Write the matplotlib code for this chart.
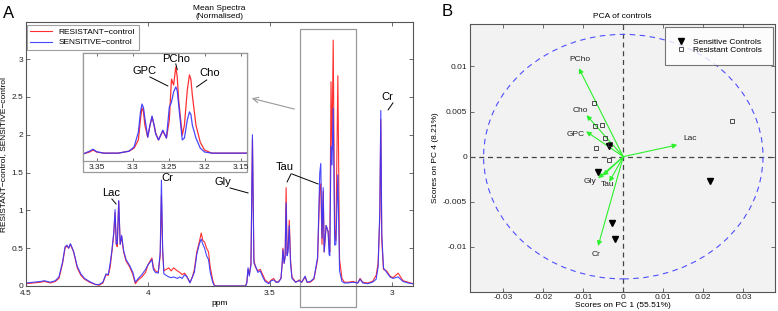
import numpy as np
import matplotlib
matplotlib.use("Agg")
import matplotlib.pyplot as plt
from matplotlib.patches import Rectangle, Ellipse

plt.rcParams['font.family'] = ['Liberation Sans', 'DejaVu Sans']
plt.rcParams['axes.unicode_minus'] = False

# ---- panel A: mean spectra (ppm, resistant, sensitive) ----
ppm_main = [4.500, 4.470, 4.440, 4.425, 4.400, 4.380, 4.365, 4.350, 4.340, 4.332,
            4.325, 4.318, 4.305, 4.290, 4.275, 4.260, 4.240, 4.215, 4.200, 4.185,
            4.172, 4.163, 4.155, 4.148, 4.140, 4.135, 4.130, 4.126, 4.120, 4.114,
            4.108, 4.100, 4.090, 4.075, 4.062, 4.052, 4.040, 4.025, 4.010, 4.000,
            3.990, 3.984, 3.978, 3.970, 3.958, 3.950, 3.945, 3.940, 3.935, 3.925,
            3.915, 3.905, 3.895, 3.880, 3.870, 3.860, 3.850, 3.840, 3.828, 3.818,
            3.810, 3.800, 3.790, 3.782, 3.775, 3.768, 3.760, 3.752, 3.745, 3.735,
            3.727, 3.600, 3.595, 3.590, 3.585, 3.578, 3.572, 3.566, 3.560, 3.550,
            3.540, 3.530, 3.520, 3.505, 3.495, 3.485, 3.475, 3.465, 3.455, 3.450,
            3.447, 3.442, 3.438, 3.434, 3.430, 3.426, 3.421, 3.416, 3.410, 3.395,
            3.380, 3.370, 3.356, 3.348, 3.335, 3.320, 3.305, 3.296, 3.292, 3.287,
            3.282, 3.278, 3.270, 3.262, 3.258, 3.255, 3.250, 3.246, 3.241, 3.235,
            3.230, 3.222, 3.215, 3.205, 3.195, 3.180, 3.160, 3.140, 3.131, 3.120,
            3.100, 3.080, 3.065, 3.057, 3.050, 3.046, 3.042, 3.035, 3.022, 3.008,
            2.996, 2.985, 2.975, 2.955, 2.935, 2.914]
resistant_main = [0.03, 0.04, 0.05, 0.06, 0.04, 0.06, 0.10, 0.30, 0.50, 0.53,
                  0.50, 0.55, 0.45, 0.24, 0.14, 0.09, 0.05, 0.02, 0.01, 0.04,
                  0.15, 0.14, 0.25, 0.45, 0.70, 0.97, 0.55, 0.52, 1.12, 0.55,
                  0.65, 0.45, 0.33, 0.25, 0.15, 0.03, 0.08, 0.12, 0.18, 0.28,
                  0.34, 0.37, 0.25, 0.20, 0.18, 0.40, 1.20, 0.45, 0.20, 0.22,
                  0.24, 0.20, 0.24, 0.20, 0.18, 0.15, 0.17, 0.12, 0.05, 0.12,
                  0.22, 0.45, 0.58, 0.70, 0.60, 0.58, 0.50, 0.45, 0.25, 0.08,
                  0.00, 0.00, 0.05, 0.22, 0.15, 0.30, 1.95, 0.35, 0.25, 0.20,
                  0.22, 0.15, 0.08, 0.04, 0.08, 0.10, 0.05, 0.06, 0.10, 0.30,
                  0.50, 0.30, 0.40, 1.30, 0.42, 0.50, 0.87, 0.35, 0.12, 0.05,
                  0.08, 0.05, 0.12, 0.05, 0.05, 0.09, 0.35, 1.30, 1.35, 0.55,
                  1.25, 0.45, 0.80, 0.72, 0.55, 0.45, 2.70, 1.80, 3.25, 0.74,
                  0.60, 2.78, 0.35, 0.10, 0.05, 0.05, 0.06, 0.04, 0.10, 0.05,
                  0.04, 0.06, 0.14, 0.30, 0.90, 2.20, 0.60, 0.22, 0.20, 0.13,
                  0.11, 0.14, 0.17, 0.07, 0.05, 0.03]
sensitive_main = [0.04, 0.05, 0.06, 0.07, 0.05, 0.07, 0.12, 0.32, 0.52, 0.54,
                  0.50, 0.56, 0.46, 0.26, 0.16, 0.10, 0.06, 0.02, 0.02, 0.05,
                  0.16, 0.15, 0.30, 0.47, 0.72, 1.01, 0.55, 0.56, 1.13, 0.55,
                  0.67, 0.47, 0.35, 0.27, 0.18, 0.05, 0.10, 0.15, 0.22, 0.28,
                  0.32, 0.35, 0.22, 0.18, 0.17, 0.45, 1.40, 0.50, 0.16, 0.14,
                  0.12, 0.11, 0.12, 0.10, 0.12, 0.10, 0.15, 0.12, 0.04, 0.12,
                  0.18, 0.42, 0.55, 0.62, 0.55, 0.50, 0.40, 0.35, 0.18, 0.05,
                  0.00, 0.00, 0.04, 0.24, 0.13, 0.28, 2.00, 0.30, 0.27, 0.18,
                  0.20, 0.12, 0.06, 0.03, 0.07, 0.08, 0.05, 0.05, 0.10, 0.30,
                  0.48, 0.30, 0.38, 1.10, 0.40, 0.45, 0.80, 0.30, 0.10, 0.05,
                  0.07, 0.05, 0.13, 0.05, 0.06, 0.10, 0.38, 1.50, 1.62, 0.63,
                  1.30, 0.45, 0.80, 0.72, 0.42, 0.40, 1.85, 1.60, 2.35, 0.54,
                  0.55, 1.47, 0.20, 0.06, 0.04, 0.04, 0.05, 0.04, 0.09, 0.04,
                  0.03, 0.05, 0.09, 0.25, 1.00, 2.32, 0.70, 0.24, 0.18, 0.12,
                  0.10, 0.11, 0.12, 0.06, 0.04, 0.03]

# zoomed inset 3.15-3.35 ppm (choline region)
ppm_inset = [3.369, 3.360, 3.355, 3.350, 3.340, 3.320, 3.305, 3.298, 3.292, 3.289,
             3.287, 3.285, 3.283, 3.279, 3.276, 3.273, 3.270, 3.268, 3.264, 3.258,
             3.253, 3.249, 3.246, 3.243, 3.240, 3.238, 3.236, 3.231, 3.228, 3.224,
             3.221, 3.219, 3.217, 3.212, 3.206, 3.200, 3.190, 3.170, 3.141]
resistant_inset = [0.04, 0.11, 0.18, 0.11, 0.07, 0.07, 0.14, 0.25, 0.54, 1.30,
                   1.68, 1.55, 1.07, 0.64, 1.05, 1.36, 1.05, 0.79, 0.54, 0.86,
                   0.61, 1.25, 2.71, 2.50, 3.14, 2.80, 1.96, 0.71, 1.07, 2.32,
                   2.86, 2.70, 2.14, 1.07, 0.46, 0.18, 0.07, 0.07, 0.07]
sensitive_inset = [0.04, 0.14, 0.21, 0.12, 0.07, 0.07, 0.14, 0.29, 0.82, 1.55,
                   1.82, 1.70, 1.32, 0.64, 1.05, 1.39, 1.05, 0.75, 0.54, 0.89,
                   0.61, 1.71, 1.89, 2.25, 2.43, 2.30, 1.79, 0.54, 0.61, 1.25,
                   1.54, 1.45, 1.07, 0.61, 0.25, 0.11, 0.07, 0.07, 0.07]

# ---- panel B: PCA scores and loadings ----
sens_pc1 = [-0.0036, -0.0063, -0.0029, -0.0021, 0.0217]
sens_pc4 = [0.0012, -0.0017, -0.0073, -0.0091, -0.0027]
res_pc1 = [-0.0073, -0.0071, -0.0053, -0.0046, -0.0068, -0.0036, 0.0272, -0.0034]
res_pc4 = [0.0059, 0.0034, 0.0035, 0.0021, 0.0010, -0.0004, 0.0040, 0.0014]
load_names = ['PCho', 'Cho', 'GPC', 'Lac', 'Gly', '', 'Tau', 'Cr']
load_pc1 = [-0.0111, -0.0092, -0.0093, 0.0135, -0.0063, -0.0051, -0.0035, -0.0063]
load_pc4 = [0.0098, 0.0046, 0.0028, 0.0013, -0.0024, -0.0021, -0.0028, -0.0099]
label_pc1 = [-0.0108, -0.0107, -0.0118, 0.0168, -0.0082, 0, -0.0040, -0.0068]
label_pc4 = [0.0108, 0.0051, 0.0025, 0.0020, -0.0028, 0, -0.0031, -0.0108]

RED = '#ff3030'
BLUE = '#3434ff'
GRAY = '#555555'
W, H = 778, 311

fig = plt.figure(figsize=(W / 100, H / 100), dpi=100)

def style_axes(ax, fs=6, pad=2):
    for s in ax.spines.values():
        s.set_color(GRAY)
        s.set_linewidth(0.8)
    ax.tick_params(direction='in', length=3, width=0.6, color=GRAY,
                   labelsize=fs, labelcolor='#222222', top=True, right=True, pad=pad)

# ---------- A ----------
axA = fig.add_axes([26 / W, 25 / H, 387 / W, 264 / H])
axA.plot(ppm_main, resistant_main, color=RED, lw=0.8, label='RESISTANT\u2212control')
axA.plot(ppm_main, sensitive_main, color=BLUE, lw=0.8, alpha=0.9, label='SENSITIVE\u2212control')
axA.set_xlim(4.5, 2.914)
axA.set_ylim(0, 3.49)
axA.set_xticks([4.5, 4, 3.5, 3])
axA.set_xticklabels(['4.5', '4', '3.5', '3'])
axA.set_yticks([0, 0.5, 1, 1.5, 2, 2.5, 3])
axA.set_yticklabels(['0', '0.5', '1', '1.5', '2', '2.5', '3'])
style_axes(axA)
axA.tick_params(axis='x', pad=3)
axA.set_title('Mean Spectra\n(Normalised)', fontsize=6, pad=3, linespacing=1.1)
axA.set_xlabel('ppm', fontsize=6, labelpad=2)
axA.set_ylabel('RESISTANT\u2212control, SENSITIVE\u2212control', fontsize=6, labelpad=3)
leg = axA.legend(loc='upper left', bbox_to_anchor=(27 / W, 1 - 25 / H),
                 bbox_transform=fig.transFigure, fontsize=6, frameon=True,
                 fancybox=False, borderaxespad=0, handlelength=2.6,
                 borderpad=0.4, labelspacing=0.3)
leg.get_frame().set_edgecolor('#888888')
leg.get_frame().set_linewidth(0.8)

# zoom box and arrow
axA.add_patch(Rectangle((3.148, -0.28), 0.229, 3.68, fill=False, ec='#999999',
                        lw=0.9, clip_on=False))
axA.annotate('', xy=(3.586, 2.49), xytext=(3.389, 2.33),
             arrowprops=dict(arrowstyle='->', color='#999999', lw=0.8,
                             mutation_scale=10))

lab = dict(fontsize=8, ha='center', va='center', color='black')
lw_lab = dict(color='black', lw=0.7)
axA.text(4.152, 1.23, 'Lac', **lab)
axA.plot([4.148, 4.131], [1.15, 1.085], **lw_lab)
axA.text(3.922, 1.43, 'Cr', **lab)
axA.text(3.693, 1.376, 'Gly', **lab)
axA.plot([3.664, 3.590], [1.296, 1.23], **lw_lab)
axA.text(3.439, 1.574, 'Tau', **lab)
axA.plot([3.414, 3.430], [1.481, 1.376], **lw_lab)
axA.plot([3.410, 3.303], [1.481, 1.349], **lw_lab)
axA.text(3.020, 2.50, 'Cr', **lab)
axA.plot([3.016, 2.996], [2.328, 2.421], **lw_lab)
fig.text(9 / W, 1 - 13 / H, 'A', fontsize=12, ha='center', va='center')

# inset
frame = Rectangle((83 / W, 1 - 172 / H), 164 / W, 119 / H, transform=fig.transFigure,
                  facecolor='white', edgecolor='#999999', lw=0.9, zorder=1)
fig.patches.append(frame)
axI = fig.add_axes([83 / W, 1 - 161 / H, 164 / W, 108 / H])
axI.set_zorder(2)
axI.plot(ppm_inset, resistant_inset, color=RED, lw=0.9)
axI.plot(ppm_inset, sensitive_inset, color=BLUE, lw=0.9, alpha=0.9)
axI.set_xlim(3.369, 3.141)
axI.set_ylim(-0.21, 3.64)
axI.set_xticks([3.35, 3.3, 3.25, 3.2, 3.15])
axI.set_xticklabels(['3.35', '3.3', '3.25', '3.2', '3.15'])
axI.set_yticks([])
for s in axI.spines.values():
    s.set_color('#999999')
    s.set_linewidth(0.9)
axI.tick_params(direction='in', length=2.5, width=0.6, color=GRAY, labelsize=6,
                labelcolor='#222222', top=True, pad=2)
axI.text(3.284, 3.0, 'GPC', **lab)
axI.plot([3.276, 3.251], [2.786, 2.464], **lw_lab)
axI.text(3.240, 3.44, 'PCho', **lab)
axI.plot([3.240, 3.238], [3.25, 3.05], **lw_lab)
axI.text(3.193, 2.93, 'Cho', **lab)
axI.plot([3.197, 3.211], [2.679, 2.429], **lw_lab)

# ---------- B ----------
axB = fig.add_axes([470 / W, 19 / H, 305 / W, 268 / H])
axB.set_facecolor('#f2f2f2')
axB.set_xlim(-0.0383, 0.0379)
axB.set_ylim(-0.0150, 0.0147)
axB.axhline(0, color='#444444', lw=0.9, ls=(0, (4, 3)), zorder=1)
axB.axvline(0, color='#444444', lw=0.9, ls=(0, (4, 3)), zorder=1)
axB.add_patch(Ellipse((0, 0), 0.0698, 0.0271, fill=False, ec='#4f4fff',
                      lw=0.8, ls=(0, (5, 4)), zorder=1))
for nm, x, y, lx, ly in zip(load_names, load_pc1, load_pc4, label_pc1, label_pc4):
    axB.annotate('', xy=(x, y), xytext=(0, 0),
                 arrowprops=dict(arrowstyle='-|>', color='#2cf02c', lw=0.8,
                                 mutation_scale=7, shrinkA=0, shrinkB=0), zorder=3)
    if nm:
        axB.text(lx, ly, nm, fontsize=6, ha='center', va='center', color='#222222', zorder=4)
axB.plot(sens_pc1, sens_pc4, ls='none', marker='v', ms=4, color='black',
         label='Sensitive Controls', zorder=5)
axB.plot(res_pc1, res_pc4, ls='none', marker='s', ms=3.2, mfc='none', mec='#333333',
         mew=0.6, label='Resistant Controls', zorder=5)
axB.set_xticks([-0.03, -0.02, -0.01, 0, 0.01, 0.02, 0.03])
axB.set_xticklabels(['-0.03', '-0.02', '-0.01', '0', '0.01', '0.02', '0.03'])
axB.set_yticks([-0.01, -0.005, 0, 0.005, 0.01])
axB.set_yticklabels(['-0.01', '-0.005', '0', '0.005', '0.01'])
style_axes(axB)
axB.tick_params(axis='x', pad=1.5)
axB.set_title('PCA of controls', fontsize=6, pad=4)
axB.set_xlabel('Scores on PC 1 (55.51%)', fontsize=6, labelpad=0.5)
axB.set_ylabel('Scores on PC 4 (8.21%)', fontsize=6, labelpad=3)
legB = axB.legend(loc='upper right', bbox_to_anchor=(773 / W, 1 - 27 / H),
                  bbox_transform=fig.transFigure, fontsize=6, frameon=True,
                  fancybox=False, borderaxespad=0, borderpad=1.3,
                  handletextpad=0.9, labelspacing=0.1, handlelength=1.2)
legB.get_frame().set_edgecolor(GRAY)
legB.get_frame().set_linewidth(0.8)
legB.get_frame().set_facecolor('white')
fig.text(447 / W, 1 - 12 / H, 'B', fontsize=12, ha='center', va='center')

fig.savefig('out.png', dpi=100)
